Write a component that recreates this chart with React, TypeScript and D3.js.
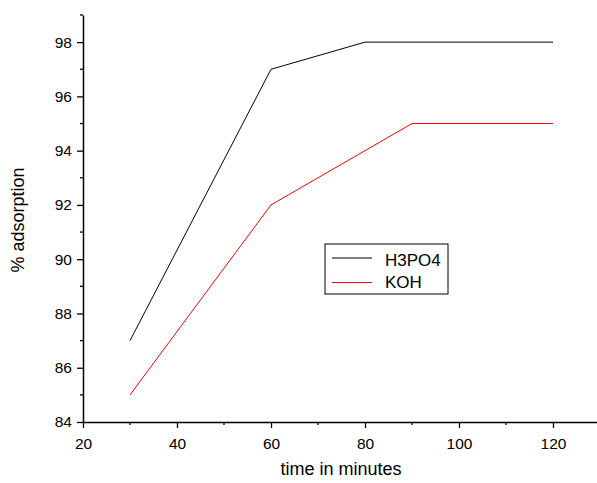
import React, { useRef, useEffect } from 'react';
import * as d3 from 'd3';

const timeH3PO4 = [30, 60, 80, 120];
const valuesH3PO4 = [87, 97, 98, 98];
const timeKOH = [30, 60, 90, 120];
const valuesKOH = [85, 92, 95, 95];
const xTicks = [20, 40, 60, 80, 100, 120];
const xMinor = [30, 50, 70, 90, 110, 130];
const yTicks = [84, 86, 88, 90, 92, 94, 96, 98];
const yMinor = [85, 87, 89, 91, 93, 95, 97, 99];

const App = () => {
    const svgRef = useRef<SVGSVGElement>(null);

    useEffect(() => {
        const svg = d3.select(svgRef.current);
        svg.selectAll("*").remove();

        const x = d3.scaleLinear().domain([20, 130]).range([83, 600]);
        const y = d3.scaleLinear().domain([84, 99]).range([422, 15]);
        const font = "Liberation Sans, Arial, sans-serif";

        // minor ticks
        svg.append("g").selectAll("line").data(yMinor).join("line")
            .attr("x1", 80).attr("x2", 83)
            .attr("y1", d => y(d)).attr("y2", d => y(d))
            .attr("stroke", "#000").attr("stroke-width", 1.3);
        svg.append("g").selectAll("line").data(xMinor).join("line")
            .attr("x1", d => x(d)).attr("x2", d => x(d))
            .attr("y1", 422).attr("y2", 425)
            .attr("stroke", "#000").attr("stroke-width", 1.3);

        // Y axis
        const yAxis = svg.append("g")
            .attr("transform", "translate(83,0)")
            .call(d3.axisLeft(y).tickValues(yTicks).tickSize(6).tickPadding(5).tickSizeOuter(0));
        yAxis.select(".domain").attr("stroke-width", 1.5);
        yAxis.selectAll(".tick line").attr("stroke-width", 1.3);
        yAxis.selectAll("text").attr("font-size", "15.5px").attr("font-family", font).attr("fill", "#000");

        // X axis
        const xAxis = svg.append("g")
            .attr("transform", "translate(0,422)")
            .call(d3.axisBottom(x).tickValues(xTicks).tickSize(6).tickPadding(10).tickSizeOuter(0));
        xAxis.select(".domain").attr("stroke-width", 1.5);
        xAxis.selectAll(".tick line").attr("stroke-width", 1.3);
        xAxis.selectAll("text").attr("font-size", "15.5px").attr("font-family", font).attr("fill", "#000");

        // lines
        const line = d3.line<[number, number]>().x(d => x(d[0])).y(d => y(d[1]));
        svg.append("path")
            .datum(timeH3PO4.map((t, i) => [t, valuesH3PO4[i]] as [number, number]))
            .attr("d", line).attr("fill", "none").attr("stroke", "#000").attr("stroke-width", 1);
        svg.append("path")
            .datum(timeKOH.map((t, i) => [t, valuesKOH[i]] as [number, number]))
            .attr("d", line).attr("fill", "none").attr("stroke", "#ff0000").attr("stroke-width", 1);

        // axis titles
        svg.append("text")
            .attr("x", 341).attr("y", 475)
            .attr("text-anchor", "middle")
            .attr("font-size", "18px").attr("font-family", font)
            .text("time in minutes");
        svg.append("text")
            .attr("transform", "translate(24,220) rotate(-90)")
            .attr("text-anchor", "middle")
            .attr("font-size", "18px").attr("font-family", font)
            .text("% adsorption");

        // Legend
        const legend = svg.append("g").attr("transform", "translate(325,244)");
        legend.append("rect")
            .attr("x", 0).attr("y", 0).attr("width", 123).attr("height", 50)
            .attr("fill", "#fff").attr("stroke", "#000").attr("stroke-width", 1);
        const items = [["H3PO4", "#000"], ["KOH", "#ff0000"]];
        items.forEach(([name, color], i) => {
            legend.append("line")
                .attr("x1", 7).attr("x2", 47)
                .attr("y1", 14 + i * 24.5).attr("y2", 14 + i * 24.5)
                .attr("stroke", color).attr("stroke-width", 1);
            legend.append("text")
                .attr("x", 60).attr("y", 22 + i * 21.5)
                .attr("font-size", "17px").attr("font-family", font)
                .text(name);
        });
    }, []);

    return (
        <svg ref={svgRef} width={597} height={483}
            style={{ position: "absolute", left: 0, top: 0, background: "#fff" }}></svg>
    );
};

export default App;
